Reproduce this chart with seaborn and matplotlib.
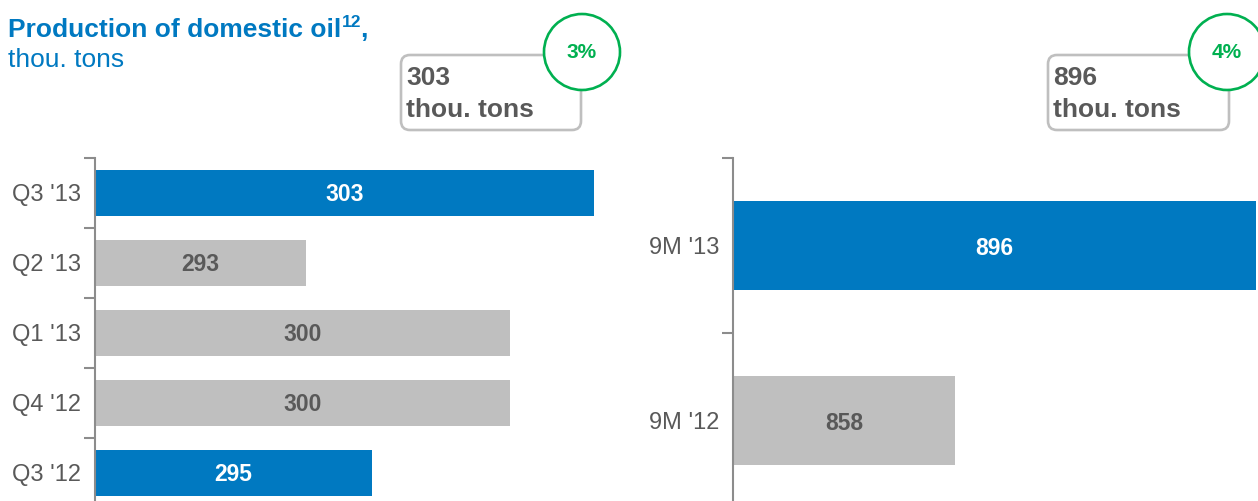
import matplotlib
matplotlib.use("Agg")
import matplotlib.pyplot as plt
import seaborn as sns
import pandas as pd
from matplotlib.patches import FancyBboxPatch, Circle

# ---- data ----
q_categories = ["Q3 '13", "Q2 '13", "Q1 '13", "Q4 '12", "Q3 '12"]
q_values = [303.0, 293.0, 300.1, 300.1, 295.3]
q_highlight = [True, False, False, False, True]

m_categories = ["9M '13", "9M '12"]
m_values = [896.0, 858.0]
m_highlight = [True, False]

title_main = "Production of domestic oil"
title_sup = "12"
title_unit = "thou. tons"
unit_label = "thou. tons"

# ---- style ----
sns.set_style("white")
plt.rcParams["font.family"] = ["Liberation Sans", "DejaVu Sans"]

BLUE = "#0079C1"
GRAY_BAR = "#BFBFBF"
TXT = "#595959"
AXIS = "#8C8C8C"
GREEN = "#00B050"

W, H = 1258, 501
fig = plt.figure(figsize=(W / 100, H / 100), dpi=100)


def px_axes(x0, x1, y0, y1):
    return fig.add_axes([x0 / W, 1 - y1 / H, (x1 - x0) / W, (y1 - y0) / H])


def inch(x, y):
    return x / 100, (H - y) / 100


def draw_panel(ax, cats, vals, hl, xmin, xmax, width, pad):
    df = pd.DataFrame({"cat": cats, "val": vals})
    pal = {c: (BLUE if h else GRAY_BAR) for c, h in zip(cats, hl)}
    sns.barplot(data=df, x="val", y="cat", hue="cat", palette=pal, legend=False,
                orient="h", width=width, ax=ax, saturation=1, edgecolor="none")
    ax.set_xlim(xmin, xmax)
    n = len(cats)
    ax.set_ylim(n - 0.5, -0.5)
    ax.set_xlabel("")
    ax.set_ylabel("")
    ax.set_xticks([])
    ax.set_yticks([i - 0.5 for i in range(n + 1)])
    ax.set_yticklabels([])
    ax.set_yticks(range(n), minor=True)
    ax.set_yticklabels(cats, minor=True)
    ax.tick_params(axis="y", which="major", length=8, width=1.5, color=AXIS, left=True)
    ax.tick_params(axis="y", which="minor", length=0, pad=pad, labelsize=17, labelcolor=TXT)
    for s in ["top", "right", "bottom"]:
        ax.spines[s].set_visible(False)
    ax.spines["left"].set_color(AXIS)
    ax.spines["left"].set_linewidth(1.5)
    ax.patch.set_alpha(0)
    # value labels
    for i, (v, h) in enumerate(zip(vals, hl)):
        ax.text((xmin + v) / 2, i + 0.02, f"{v:.0f}", ha="center", va="center",
                fontsize=16.5, fontweight="bold", color=("white" if h else TXT))


ax1 = px_axes(95, 594, 158, 508)
draw_panel(ax1, q_categories, q_values, q_highlight, 285.7, 303.0, 0.67, 10)

ax2 = px_axes(733, 1256, 158, 508)
draw_panel(ax2, m_categories, m_values, m_highlight, 830.0, 896.0, 0.51, 9.5)

# ---- title ----
t1 = fig.text(8 / W, 1 - 37 / H, title_main, fontsize=19, fontweight="bold",
              color=BLUE, va="baseline", ha="left")
fig.canvas.draw()
r = fig.canvas.get_renderer()
bb = t1.get_window_extent(r)
t2 = fig.text((bb.x1 + 1) / W, 1 - 27 / H, title_sup, fontsize=12.5, fontweight="bold",
              color=BLUE, va="baseline", ha="left")
bb2 = t2.get_window_extent(r)
fig.text((bb2.x1 - 2) / W, 1 - 37 / H, ",", fontsize=19, fontweight="bold",
         color=BLUE, va="baseline", ha="left")
fig.text(8 / W, 1 - 67 / H, title_unit, fontsize=19, color=BLUE,
         va="baseline", ha="left")

# ---- callouts ----
def callout(x0, x1, y0, y1, cx, cy, value, pct):
    bx, by = inch(x0, y1)
    box = FancyBboxPatch((bx, by), (x1 - x0) / 100, (y1 - y0) / 100,
                         boxstyle="round,pad=0,rounding_size=0.09",
                         transform=fig.dpi_scale_trans, facecolor="white",
                         edgecolor=GRAY_BAR, linewidth=1.9)
    fig.add_artist(box)
    fig.text((x0 + 5) / W, 1 - 85 / H, f"{value:.0f}", fontsize=19, fontweight="bold",
             color=TXT, va="baseline", ha="left")
    fig.text((x0 + 5) / W, 1 - 117 / H, unit_label, fontsize=19, fontweight="bold",
             color=TXT, va="baseline", ha="left")
    c = Circle(inch(cx, cy), 0.38, transform=fig.dpi_scale_trans, facecolor="white",
               edgecolor=GREEN, linewidth=1.9, zorder=5)
    fig.add_artist(c)
    fig.text(cx / W, 1 - cy / H, f"{pct}%", fontsize=15, fontweight="bold", color=GREEN,
             ha="center", va="center", zorder=6)


pct_q = round((q_values[0] / q_values[-1] - 1) * 100)
pct_m = round((m_values[0] / m_values[-1] - 1) * 100)
callout(401, 581, 55, 130, 582, 52, q_values[0], pct_q)
callout(1048, 1229, 55, 130, 1227, 52, m_values[0], pct_m)

fig.savefig("out.png", dpi=100)
